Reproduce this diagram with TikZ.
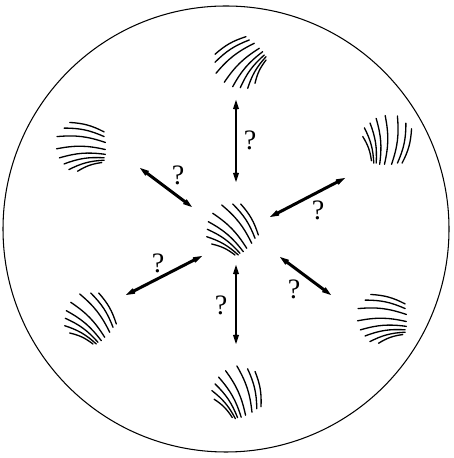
\documentclass[tikz,border=0pt]{standalone}
\usepackage{fontspec}
\setmainfont{Liberation Serif}
\usetikzlibrary{arrows.meta}

\tikzset{
  twoway/.style={{Stealth[length=3.8mm,width=2.6mm,inset=2.5mm]}-{Stealth[length=3.8mm,width=2.6mm,inset=2.5mm]}, line width=1.7pt},
  hair/.style={line width=0.75pt, line cap=round},
  query/.style={font=\fontsize{16}{18}\selectfont, inner sep=0pt},
}

% one fan of curved hair strokes: x, y (cm), rotation
\newcommand{\shellpatch}[3]{%
  \begin{scope}[shift={(#1,#2)}, rotate=#3, x=0.02cm, y=0.02cm]
    \foreach \ax/\ay/\bx/\by in {8.7/26/26.3/-5, 0.7/26/23/-8.3, -10.3/25/19.7/-13.3,
        -19.3/16.7/14.7/-18.3, -23.7/8.3/11.3/-21.7, -24.7/0.7/8/-23.3,
        -25.3/-6.7/6.3/-25, -20.3/-14/3/-25}
      \draw[hair] (\ax,\ay) to[bend left=12] (\bx,\by);
  \end{scope}}

\begin{document}
\begin{tikzpicture}
\useasboundingbox (0,0) rectangle (9.06,9.16);
\node[draw, circle, minimum size=8.92cm, line width=0.6pt] (dish) at (4.52,4.58) {};

% patches
\shellpatch{4.64}{4.56}{0}
\shellpatch{4.82}{7.90}{90}
\shellpatch{1.64}{6.22}{45}
\shellpatch{7.74}{6.34}{-45}
\shellpatch{1.80}{2.78}{0}
\shellpatch{7.66}{2.78}{45}
\shellpatch{4.76}{1.30}{-20}

% arrow ends
\coordinate (t1) at (4.72,7.16);
\coordinate (t2) at (4.72,5.52);
\coordinate (ul1) at (2.80,5.80);
\coordinate (ul2) at (3.84,5.02);
\coordinate (r1) at (5.40,4.82);
\coordinate (r2) at (6.90,5.60);
\coordinate (ll1) at (2.52,3.26);
\coordinate (ll2) at (4.04,4.04);
\coordinate (lr1) at (5.60,4.02);
\coordinate (lr2) at (6.62,3.26);
\coordinate (b1) at (4.72,3.86);
\coordinate (b2) at (4.72,2.28);

\draw[twoway] (t1) -- (t2);
\draw[twoway] (ul1) -- (ul2);
\draw[twoway] (r1) -- (r2);
\draw[twoway] (ll1) -- (ll2);
\draw[twoway] (lr1) -- (lr2);
\draw[twoway] (b1) -- (b2);

% labels
\node[query] (q1) at (5.00,6.36) {?};
\node[query] (q2) at (3.56,5.66) {?};
\node[query] (q3) at (6.36,4.96) {?};
\node[query] (q4) at (3.16,3.90) {?};
\node[query] (q5) at (5.88,3.38) {?};
\node[query] (q6) at (4.42,3.06) {?};
\end{tikzpicture}
\end{document}
